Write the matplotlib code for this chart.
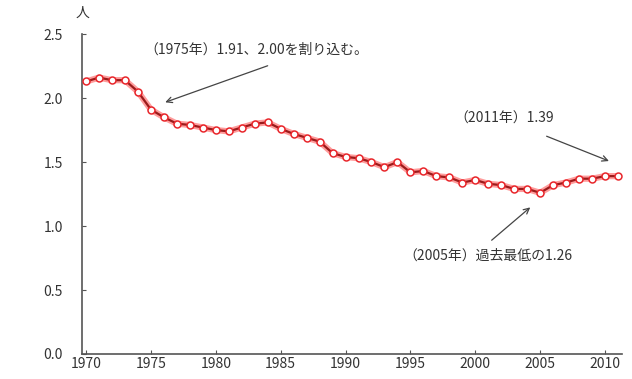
import matplotlib
matplotlib.use("Agg")
import matplotlib.pyplot as plt

plt.rcParams['font.family'] = ['Noto Sans CJK JP', 'DejaVu Sans']

years = list(range(1970, 2012))
tfr = [2.13, 2.16, 2.14, 2.14, 2.05, 1.91, 1.85, 1.80, 1.79, 1.77,
       1.75, 1.74, 1.77, 1.80, 1.81, 1.76, 1.72, 1.69, 1.66, 1.57,
       1.54, 1.53, 1.50, 1.46, 1.50, 1.42, 1.43, 1.39, 1.38, 1.34,
       1.36, 1.33, 1.32, 1.29, 1.29, 1.26, 1.32, 1.34, 1.37, 1.37,
       1.39, 1.39]
xticks = list(range(1970, 2011, 5))
yticks = [0.0, 0.5, 1.0, 1.5, 2.0, 2.5]

fig = plt.figure(figsize=(6.32, 3.79), dpi=100)
ax = fig.add_axes([0.130, 0.066, 0.854, 0.844])

ax.plot(years, tfr, color='#ff3b3b', lw=4.5, alpha=0.5, zorder=2, solid_capstyle='round')
ax.plot(years, tfr, color='#9b1b1b', lw=1.6, zorder=3)
ax.plot(years, tfr, ls='none', marker='o', ms=5, mfc='white', mec='#e8262b',
        mew=1.1, zorder=4)

ax.set_xlim(1969.7, 2011.3)
ax.set_ylim(0, 2.5)
ax.set_xticks(xticks)
ax.set_xticklabels([str(y) for y in xticks])
ax.set_yticks(yticks)
ax.set_yticklabels([f"{v:.1f}" for v in yticks])

for s in ['top', 'right']:
    ax.spines[s].set_visible(False)
for s in ['left', 'bottom']:
    ax.spines[s].set_color('#555555')
    ax.spines[s].set_linewidth(1.2)
ax.tick_params(axis='both', colors='#555555', labelcolor='#333333', labelsize=10,
               length=3, direction='in')
ax.tick_params(axis='x', pad=2)
ax.tick_params(axis='y', pad=14)

ax.text(0.0, 1.045, '人', transform=ax.transAxes, ha='center', va='bottom',
        fontsize=10, color='#333333')

arrow = dict(arrowstyle='->', color='#444444', lw=0.9)
ax.text(1974.5, 2.375, '（1975年）1.91、2.00を割り込む。', fontsize=10,
        color='#333333', ha='left', va='center')
ax.annotate('', xy=(1975.9, 1.96), xytext=(1984.2, 2.26), arrowprops=arrow)
ax.text(2002.2, 1.84, '（2011年）1.39', fontsize=10,
        color='#333333', ha='center', va='center')
ax.annotate('', xy=(2010.5, 1.50), xytext=(2005.3, 1.71), arrowprops=arrow)
ax.text(2001.0, 0.77, '（2005年）過去最低の1.26', fontsize=10,
        color='#333333', ha='center', va='center')
ax.annotate('', xy=(2004.4, 1.16), xytext=(2001.1, 0.875), arrowprops=arrow)

fig.savefig('out.png', dpi=100)
